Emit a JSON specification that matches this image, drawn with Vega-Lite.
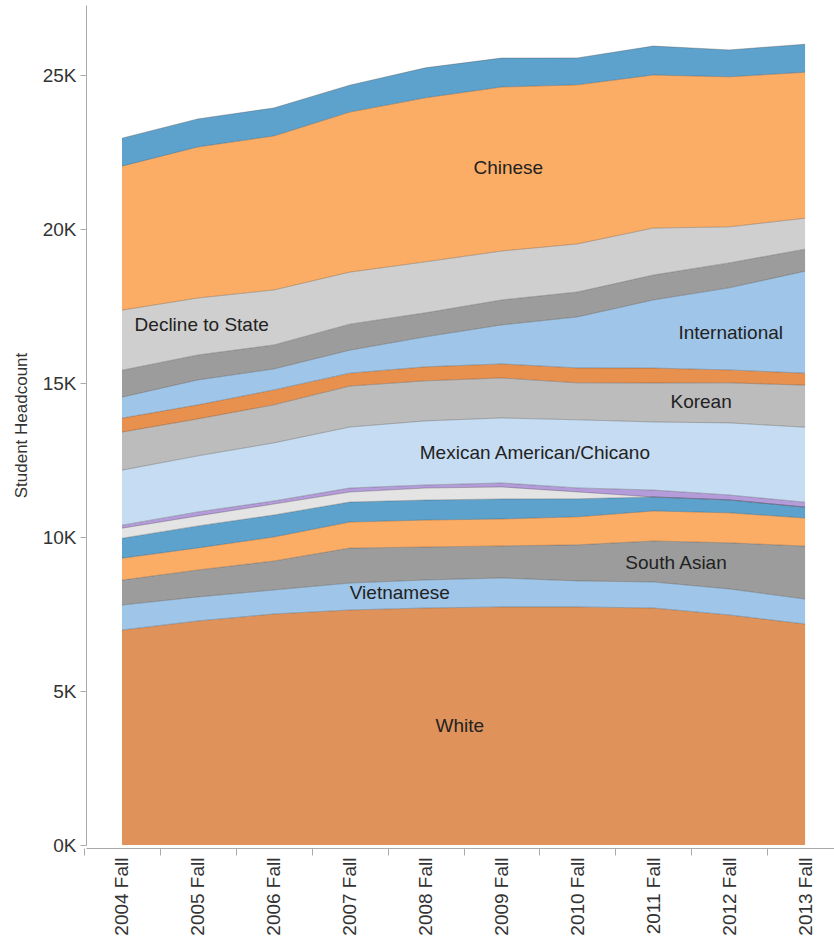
{
"$schema": "https://vega.github.io/schema/vega-lite/v6.json",
"width": 748, "height": 840,
"autosize": {"type": "none"},
"padding": {"left": 86, "top": 5, "right": 0, "bottom": 93},
"config": {"font": "Liberation Sans", "view": {"stroke": null}},
"datasets": {
"enroll": [
{"Year":2004,"Group":"White","k":1,"Headcount":6980},{"Year":2004,"Group":"Vietnamese","k":2,"Headcount":810},{"Year":2004,"Group":"South Asian","k":3,"Headcount":810},{"Year":2004,"Group":"Filipino","k":4,"Headcount":710},{"Year":2004,"Group":"Japanese","k":5,"Headcount":650},{"Year":2004,"Group":"Other Asian","k":6,"Headcount":325},{"Year":2004,"Group":"Pacific Islander","k":7,"Headcount":100},{"Year":2004,"Group":"Mexican American/Chicano","k":8,"Headcount":1785},{"Year":2004,"Group":"Korean","k":9,"Headcount":1235},{"Year":2004,"Group":"Other Hispanic/Latino","k":10,"Headcount":455},{"Year":2004,"Group":"International","k":11,"Headcount":680},{"Year":2004,"Group":"African American","k":12,"Headcount":875},{"Year":2004,"Group":"Decline to State","k":13,"Headcount":1950},{"Year":2004,"Group":"Chinese","k":14,"Headcount":4675},{"Year":2004,"Group":"Other","k":15,"Headcount":910},
{"Year":2005,"Group":"White","k":1,"Headcount":7275},{"Year":2005,"Group":"Vietnamese","k":2,"Headcount":780},{"Year":2005,"Group":"South Asian","k":3,"Headcount":875},{"Year":2005,"Group":"Filipino","k":4,"Headcount":715},{"Year":2005,"Group":"Japanese","k":5,"Headcount":715},{"Year":2005,"Group":"Other Asian","k":6,"Headcount":325},{"Year":2005,"Group":"Pacific Islander","k":7,"Headcount":130},{"Year":2005,"Group":"Mexican American/Chicano","k":8,"Headcount":1820},{"Year":2005,"Group":"Korean","k":9,"Headcount":1200},{"Year":2005,"Group":"Other Hispanic/Latino","k":10,"Headcount":455},{"Year":2005,"Group":"International","k":11,"Headcount":810},{"Year":2005,"Group":"African American","k":12,"Headcount":810},{"Year":2005,"Group":"Decline to State","k":13,"Headcount":1850},{"Year":2005,"Group":"Chinese","k":14,"Headcount":4905},{"Year":2005,"Group":"Other","k":15,"Headcount":910},
{"Year":2006,"Group":"White","k":1,"Headcount":7500},{"Year":2006,"Group":"Vietnamese","k":2,"Headcount":780},{"Year":2006,"Group":"South Asian","k":3,"Headcount":940},{"Year":2006,"Group":"Filipino","k":4,"Headcount":780},{"Year":2006,"Group":"Japanese","k":5,"Headcount":715},{"Year":2006,"Group":"Other Asian","k":6,"Headcount":355},{"Year":2006,"Group":"Pacific Islander","k":7,"Headcount":100},{"Year":2006,"Group":"Mexican American/Chicano","k":8,"Headcount":1885},{"Year":2006,"Group":"Korean","k":9,"Headcount":1235},{"Year":2006,"Group":"Other Hispanic/Latino","k":10,"Headcount":485},{"Year":2006,"Group":"International","k":11,"Headcount":680},{"Year":2006,"Group":"African American","k":12,"Headcount":780},{"Year":2006,"Group":"Decline to State","k":13,"Headcount":1785},{"Year":2006,"Group":"Chinese","k":14,"Headcount":5000},{"Year":2006,"Group":"Other","k":15,"Headcount":910},
{"Year":2007,"Group":"White","k":1,"Headcount":7630},{"Year":2007,"Group":"Vietnamese","k":2,"Headcount":875},{"Year":2007,"Group":"South Asian","k":3,"Headcount":1135},{"Year":2007,"Group":"Filipino","k":4,"Headcount":845},{"Year":2007,"Group":"Japanese","k":5,"Headcount":650},{"Year":2007,"Group":"Other Asian","k":6,"Headcount":325},{"Year":2007,"Group":"Pacific Islander","k":7,"Headcount":130},{"Year":2007,"Group":"Mexican American/Chicano","k":8,"Headcount":1980},{"Year":2007,"Group":"Korean","k":9,"Headcount":1330},{"Year":2007,"Group":"Other Hispanic/Latino","k":10,"Headcount":420},{"Year":2007,"Group":"International","k":11,"Headcount":745},{"Year":2007,"Group":"African American","k":12,"Headcount":845},{"Year":2007,"Group":"Decline to State","k":13,"Headcount":1690},{"Year":2007,"Group":"Chinese","k":14,"Headcount":5195},{"Year":2007,"Group":"Other","k":15,"Headcount":875},
{"Year":2008,"Group":"White","k":1,"Headcount":7695},{"Year":2008,"Group":"Vietnamese","k":2,"Headcount":910},{"Year":2008,"Group":"South Asian","k":3,"Headcount":1070},{"Year":2008,"Group":"Filipino","k":4,"Headcount":875},{"Year":2008,"Group":"Japanese","k":5,"Headcount":650},{"Year":2008,"Group":"Other Asian","k":6,"Headcount":390},{"Year":2008,"Group":"Pacific Islander","k":7,"Headcount":100},{"Year":2008,"Group":"Mexican American/Chicano","k":8,"Headcount":2080},{"Year":2008,"Group":"Korean","k":9,"Headcount":1300},{"Year":2008,"Group":"Other Hispanic/Latino","k":10,"Headcount":455},{"Year":2008,"Group":"International","k":11,"Headcount":975},{"Year":2008,"Group":"African American","k":12,"Headcount":780},{"Year":2008,"Group":"Decline to State","k":13,"Headcount":1655},{"Year":2008,"Group":"Chinese","k":14,"Headcount":5325},{"Year":2008,"Group":"Other","k":15,"Headcount":975},
{"Year":2009,"Group":"White","k":1,"Headcount":7730},{"Year":2009,"Group":"Vietnamese","k":2,"Headcount":940},{"Year":2009,"Group":"South Asian","k":3,"Headcount":1040},{"Year":2009,"Group":"Filipino","k":4,"Headcount":875},{"Year":2009,"Group":"Japanese","k":5,"Headcount":650},{"Year":2009,"Group":"Other Asian","k":6,"Headcount":390},{"Year":2009,"Group":"Pacific Islander","k":7,"Headcount":130},{"Year":2009,"Group":"Mexican American/Chicano","k":8,"Headcount":2110},{"Year":2009,"Group":"Korean","k":9,"Headcount":1300},{"Year":2009,"Group":"Other Hispanic/Latino","k":10,"Headcount":455},{"Year":2009,"Group":"International","k":11,"Headcount":1265},{"Year":2009,"Group":"African American","k":12,"Headcount":810},{"Year":2009,"Group":"Decline to State","k":13,"Headcount":1590},{"Year":2009,"Group":"Chinese","k":14,"Headcount":5325},{"Year":2009,"Group":"Other","k":15,"Headcount":940},
{"Year":2010,"Group":"White","k":1,"Headcount":7730},{"Year":2010,"Group":"Vietnamese","k":2,"Headcount":845},{"Year":2010,"Group":"South Asian","k":3,"Headcount":1170},{"Year":2010,"Group":"Filipino","k":4,"Headcount":910},{"Year":2010,"Group":"Japanese","k":5,"Headcount":585},{"Year":2010,"Group":"Other Asian","k":6,"Headcount":225},{"Year":2010,"Group":"Pacific Islander","k":7,"Headcount":130},{"Year":2010,"Group":"Mexican American/Chicano","k":8,"Headcount":2210},{"Year":2010,"Group":"Korean","k":9,"Headcount":1200},{"Year":2010,"Group":"Other Hispanic/Latino","k":10,"Headcount":485},{"Year":2010,"Group":"International","k":11,"Headcount":1655},{"Year":2010,"Group":"African American","k":12,"Headcount":810},{"Year":2010,"Group":"Decline to State","k":13,"Headcount":1560},{"Year":2010,"Group":"Chinese","k":14,"Headcount":5165},{"Year":2010,"Group":"Other","k":15,"Headcount":875},
{"Year":2011,"Group":"White","k":1,"Headcount":7695},{"Year":2011,"Group":"Vietnamese","k":2,"Headcount":845},{"Year":2011,"Group":"South Asian","k":3,"Headcount":1330},{"Year":2011,"Group":"Filipino","k":4,"Headcount":975},{"Year":2011,"Group":"Japanese","k":5,"Headcount":455},{"Year":2011,"Group":"Other Asian","k":6,"Headcount":0},{"Year":2011,"Group":"Pacific Islander","k":7,"Headcount":225},{"Year":2011,"Group":"Mexican American/Chicano","k":8,"Headcount":2210},{"Year":2011,"Group":"Korean","k":9,"Headcount":1265},{"Year":2011,"Group":"Other Hispanic/Latino","k":10,"Headcount":485},{"Year":2011,"Group":"International","k":11,"Headcount":2210},{"Year":2011,"Group":"African American","k":12,"Headcount":810},{"Year":2011,"Group":"Decline to State","k":13,"Headcount":1525},{"Year":2011,"Group":"Chinese","k":14,"Headcount":4970},{"Year":2011,"Group":"Other","k":15,"Headcount":940},
{"Year":2012,"Group":"White","k":1,"Headcount":7470},{"Year":2012,"Group":"Vietnamese","k":2,"Headcount":845},{"Year":2012,"Group":"South Asian","k":3,"Headcount":1495},{"Year":2012,"Group":"Filipino","k":4,"Headcount":975},{"Year":2012,"Group":"Japanese","k":5,"Headcount":420},{"Year":2012,"Group":"Other Asian","k":6,"Headcount":0},{"Year":2012,"Group":"Pacific Islander","k":7,"Headcount":160},{"Year":2012,"Group":"Mexican American/Chicano","k":8,"Headcount":2340},{"Year":2012,"Group":"Korean","k":9,"Headcount":1300},{"Year":2012,"Group":"Other Hispanic/Latino","k":10,"Headcount":420},{"Year":2012,"Group":"International","k":11,"Headcount":2665},{"Year":2012,"Group":"African American","k":12,"Headcount":810},{"Year":2012,"Group":"Decline to State","k":13,"Headcount":1170},{"Year":2012,"Group":"Chinese","k":14,"Headcount":4870},{"Year":2012,"Group":"Other","k":15,"Headcount":875},
{"Year":2013,"Group":"White","k":1,"Headcount":7175},{"Year":2013,"Group":"Vietnamese","k":2,"Headcount":810},{"Year":2013,"Group":"South Asian","k":3,"Headcount":1720},{"Year":2013,"Group":"Filipino","k":4,"Headcount":910},{"Year":2013,"Group":"Japanese","k":5,"Headcount":355},{"Year":2013,"Group":"Other Asian","k":6,"Headcount":0},{"Year":2013,"Group":"Pacific Islander","k":7,"Headcount":160},{"Year":2013,"Group":"Mexican American/Chicano","k":8,"Headcount":2435},{"Year":2013,"Group":"Korean","k":9,"Headcount":1365},{"Year":2013,"Group":"Other Hispanic/Latino","k":10,"Headcount":390},{"Year":2013,"Group":"International","k":11,"Headcount":3310},{"Year":2013,"Group":"African American","k":12,"Headcount":715},{"Year":2013,"Group":"Decline to State","k":13,"Headcount":1005},{"Year":2013,"Group":"Chinese","k":14,"Headcount":4740},{"Year":2013,"Group":"Other","k":15,"Headcount":910}
],
"labels": [
{"label":"Chinese","Year":2009.09,"hi":21980},
{"label":"Decline to State","Year":2005.05,"hi":16880},
{"label":"International","Year":2012.02,"hi":16620},
{"label":"Korean","Year":2011.63,"hi":14380},
{"label":"Mexican American/Chicano","Year":2009.44,"hi":12730},
{"label":"South Asian","Year":2011.3,"hi":9160},
{"label":"Vietnamese","Year":2007.66,"hi":8180},
{"label":"White","Year":2008.45,"hi":3860}
]
},
"layer": [
{
"data": {"name": "enroll"},
"transform": [{"stack": "Headcount", "groupby": ["Year"], "sort": [{"field": "k", "order": "ascending"}], "as": ["lo", "hi"]}],
"layer": [
{"mark": {"type": "area", "interpolate": "linear"},
 "encoding": {
  "x": {"field": "Year", "type": "quantitative",
        "scale": {"domain": [2003.526, 2013.381], "nice": false, "zero": false},
        "axis": {"title": null, "values": [2004,2005,2006,2007,2008,2009,2010,2011,2012,2013], "labelExpr": "datum.value + ' Fall'", "labelAngle": 270, "tickOffset": -37.95, "labelOffset": 37.95, "tickSize": 7, "labelPadding": 2, "offset": 3, "grid": false, "labelFontSize": 19, "labelColor": "#333", "domainColor": "#aaa", "tickColor": "#aaa"}},
  "y": {"field": "hi", "type": "quantitative",
        "scale": {"domain": [0, 27273], "nice": false},
        "axis": {"title": "Student Headcount", "values": [0,5000,10000,15000,20000,25000], "labelExpr": "datum.value/1000 + 'K'", "grid": false, "tickSize": 6, "labelPadding": 4, "labelFontSize": 19, "labelColor": "#333", "titleFontSize": 17, "titleFontWeight": "normal", "titleColor": "#333", "titlePadding": 12, "domainColor": "#aaa", "tickColor": "#aaa"}},
  "y2": {"field": "lo"},
  "color": {"field": "Group", "type": "nominal", "legend": null,
    "scale": {"domain": ["White","Vietnamese","South Asian","Filipino","Japanese","Other Asian","Pacific Islander","Mexican American/Chicano","Korean","Other Hispanic/Latino","International","African American","Decline to State","Chinese","Other"],
              "range": ["#DF935B","#9FC5E8","#9C9C9C","#FCAD65","#5DA2CC","#E4E4E4","#B49BDA","#C6DCF2","#BCBCBC","#E8904E","#9FC5E8","#9C9C9C","#CFCFCF","#FCAD65","#5DA2CC"]}}
 }},
{"mark": {"type": "line", "strokeWidth": 1, "color": "#333", "opacity": 0.3, "interpolate": "linear"},
 "encoding": {
  "x": {"field": "Year", "type": "quantitative"},
  "y": {"field": "hi", "type": "quantitative"},
  "detail": {"field": "Group"}
 }}
]
},
{
"data": {"name": "labels"},
"mark": {"type": "text", "fontSize": 19, "color": "#222", "align": "center", "baseline": "middle"},
"encoding": {
 "x": {"field": "Year", "type": "quantitative"},
 "y": {"field": "hi", "type": "quantitative"},
 "text": {"field": "label"}
}
},
{"mark": {"type": "rule", "color": "#bbb", "strokeWidth": 1}, "encoding": {"y": {"datum": 27273}}}
]
}
